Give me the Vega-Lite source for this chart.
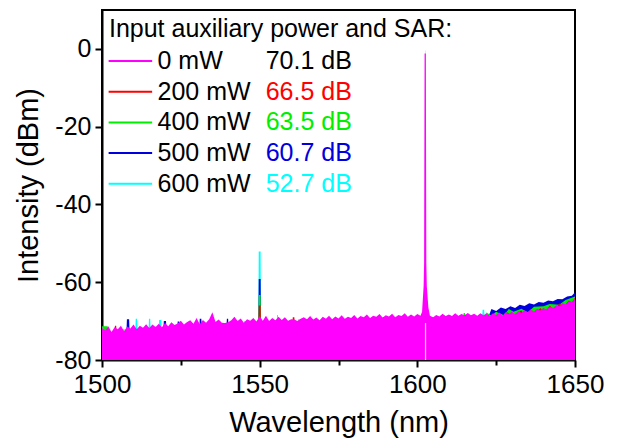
{
  "$schema": "https://vega.github.io/schema/vega-lite/v6.json",
  "width": 473,
  "height": 350,
  "autosize": "none",
  "padding": {"left": 102, "top": 10, "right": 45, "bottom": 79},
  "background": "white",
  "config": {
    "view": {"stroke": "black", "strokeWidth": 2},
    "font": "Liberation Sans",
    "axis": {
      "domainColor": "black", "domainWidth": 2, "tickColor": "black", "tickWidth": 2,
      "labelColor": "black", "titleColor": "black", "grid": false,
      "labelFont": "Liberation Sans", "titleFont": "Liberation Sans", "titleFontWeight": "normal"
    }
  },
  "datasets": {
    "m": [
      {"x":1500,"y":-71.8},{"x":1501,"y":-72.4},{"x":1502,"y":-71.3},{"x":1503,"y":-72.8},{"x":1504,"y":-71.6},{"x":1505,"y":-72.1},{"x":1506,"y":-71.2},{"x":1507,"y":-72.6},{"x":1508,"y":-71.4},{"x":1509,"y":-71.9},
      {"x":1510,"y":-70.9},{"x":1511,"y":-72.1},{"x":1512,"y":-71.2},{"x":1513,"y":-71.7},{"x":1514,"y":-70.8},{"x":1515,"y":-71.8},{"x":1516,"y":-70.9},{"x":1517,"y":-71.5},{"x":1518,"y":-70.7},{"x":1519,"y":-71.6},
      {"x":1520,"y":-70.5},{"x":1521,"y":-71.3},{"x":1522,"y":-70.3},{"x":1523,"y":-71.0},{"x":1524,"y":-70.6},{"x":1525,"y":-69.9},{"x":1526,"y":-70.9},{"x":1527,"y":-70.2},{"x":1528,"y":-69.8},{"x":1529,"y":-70.7},
      {"x":1530,"y":-69.2},{"x":1531,"y":-70.8},{"x":1532,"y":-69.7},{"x":1533,"y":-70.4},{"x":1534,"y":-69.5},{"x":1535,"y":-67.7},{"x":1536,"y":-70.2},{"x":1537,"y":-69.6},{"x":1538,"y":-70.4},{"x":1539,"y":-70.5},
      {"x":1540,"y":-70.3},{"x":1541,"y":-69.8},{"x":1542,"y":-68.9},{"x":1543,"y":-70.0},{"x":1544,"y":-69.3},{"x":1545,"y":-70.4},{"x":1546,"y":-69.5},{"x":1547,"y":-69.9},{"x":1548,"y":-69.2},{"x":1549,"y":-70.1},
      {"x":1550,"y":-68.7},{"x":1551,"y":-69.9},{"x":1552,"y":-68.6},{"x":1553,"y":-70.0},{"x":1554,"y":-69.2},{"x":1555,"y":-69.8},{"x":1556,"y":-68.9},{"x":1557,"y":-69.7},{"x":1558,"y":-69.0},{"x":1559,"y":-69.9},
      {"x":1560,"y":-69.5},{"x":1561,"y":-69.6},{"x":1562,"y":-70.0},{"x":1563,"y":-69.4},{"x":1564,"y":-69.0},{"x":1565,"y":-69.5},{"x":1566,"y":-68.7},{"x":1567,"y":-69.6},{"x":1568,"y":-69.1},{"x":1569,"y":-69.8},
      {"x":1570,"y":-68.9},{"x":1571,"y":-69.4},{"x":1572,"y":-68.6},{"x":1573,"y":-69.5},{"x":1574,"y":-68.8},{"x":1575,"y":-69.3},{"x":1576,"y":-68.5},{"x":1577,"y":-69.4},{"x":1578,"y":-68.9},{"x":1579,"y":-69.2},
      {"x":1580,"y":-68.4},{"x":1581,"y":-69.3},{"x":1582,"y":-68.7},{"x":1583,"y":-69.0},{"x":1584,"y":-68.3},{"x":1585,"y":-69.2},{"x":1586,"y":-68.6},{"x":1587,"y":-68.9},{"x":1588,"y":-68.2},{"x":1589,"y":-69.1},
      {"x":1590,"y":-68.5},{"x":1591,"y":-68.8},{"x":1592,"y":-68.1},{"x":1593,"y":-69.0},{"x":1594,"y":-68.4},{"x":1595,"y":-68.7},{"x":1596,"y":-68.0},{"x":1597,"y":-68.9},{"x":1598,"y":-68.3},{"x":1599,"y":-68.8},
      {"x":1600,"y":-68.2},{"x":1601,"y":-68.6},{"x":1601.5,"y":-67.6},{"x":1602,"y":-61},{"x":1602.15,"y":-55},{"x":1602.3,"y":-1.2},{"x":1602.7,"y":-1.2},{"x":1602.85,"y":-55},{"x":1603,"y":-61},{"x":1603.5,"y":-66.5},
      {"x":1604,"y":-68.6},{"x":1605,"y":-69.0},{"x":1606,"y":-68.4},{"x":1607,"y":-68.8},{"x":1608,"y":-68.1},{"x":1609,"y":-68.7},
      {"x":1610,"y":-68.3},{"x":1611,"y":-68.7},{"x":1612,"y":-68.0},{"x":1613,"y":-68.6},{"x":1614,"y":-68.2},{"x":1615,"y":-68.5},{"x":1616,"y":-67.9},{"x":1617,"y":-68.5},{"x":1618,"y":-68.1},{"x":1619,"y":-68.6},
      {"x":1620,"y":-68.0},{"x":1621,"y":-68.5},{"x":1622,"y":-68.1},{"x":1623,"y":-68.7},{"x":1624,"y":-68.0},{"x":1625,"y":-68.4},{"x":1626,"y":-67.8},{"x":1627,"y":-68.6},{"x":1628,"y":-67.7},{"x":1629,"y":-68.2},
      {"x":1630,"y":-67.5},{"x":1631,"y":-68.3},{"x":1632,"y":-67.4},{"x":1633,"y":-67.9},{"x":1634,"y":-67.2},{"x":1635,"y":-67.8},{"x":1636,"y":-67.0},{"x":1637,"y":-67.6},{"x":1638,"y":-66.8},{"x":1639,"y":-67.3},
      {"x":1640,"y":-66.6},{"x":1641,"y":-67.0},{"x":1642,"y":-66.2},{"x":1643,"y":-66.7},{"x":1644,"y":-65.9},{"x":1645,"y":-66.2},{"x":1646,"y":-65.4},{"x":1647,"y":-65.7},{"x":1648,"y":-64.9},{"x":1649,"y":-65.0},
      {"x":1650,"y":-64.2}
    ],
    "r": [
      {"x":1500,"y":-74},{"x":1503.9,"y":-74},{"x":1504.1,"y":-71.2},{"x":1504.5,"y":-71.2},{"x":1504.7,"y":-74},
      {"x":1549.6,"y":-72},{"x":1549.7,"y":-66.0},{"x":1550.3,"y":-66.0},{"x":1550.4,"y":-72},
      {"x":1560.3,"y":-72},{"x":1560.5,"y":-69.0},{"x":1561,"y":-69.0},{"x":1561.2,"y":-72},
      {"x":1625,"y":-70},{"x":1627,"y":-68.9},{"x":1628.5,"y":-67.7},{"x":1630,"y":-68.7},{"x":1633,"y":-67.3},{"x":1634,"y":-68.9},{"x":1636,"y":-67.0},{"x":1637.5,"y":-68.1},{"x":1639,"y":-66.6},{"x":1640.5,"y":-67.9},
      {"x":1642,"y":-66.0},{"x":1643.5,"y":-67.1},{"x":1645,"y":-65.5},{"x":1646.5,"y":-66.3},{"x":1648,"y":-64.7},{"x":1649,"y":-65.3},{"x":1650,"y":-63.9}
    ],
    "g": [
      {"x":1500,"y":-71.3},{"x":1501.8,"y":-71.3},{"x":1502,"y":-74},{"x":1506.6,"y":-74},{"x":1506.8,"y":-72.0},{"x":1507.1,"y":-72.0},{"x":1507.3,"y":-74},
      {"x":1549.6,"y":-72},{"x":1549.7,"y":-63.3},{"x":1550.3,"y":-63.3},{"x":1550.4,"y":-72},
      {"x":1562.1,"y":-72},{"x":1562.3,"y":-69.5},{"x":1562.6,"y":-69.5},{"x":1562.8,"y":-72},
      {"x":1614.5,"y":-70},{"x":1614.7,"y":-67.9},{"x":1615.1,"y":-67.9},{"x":1615.3,"y":-70},
      {"x":1620,"y":-69.5},{"x":1622,"y":-67.8},{"x":1623.5,"y":-68.6},{"x":1625,"y":-67.6},{"x":1627.5,"y":-68.5},{"x":1629,"y":-66.9},{"x":1630.5,"y":-67.6},{"x":1633,"y":-66.8},{"x":1635,"y":-67.7},{"x":1637,"y":-66.3},
      {"x":1640,"y":-66.2},{"x":1642,"y":-65.6},{"x":1645,"y":-65.8},{"x":1647,"y":-64.6},{"x":1650,"y":-63.7}
    ],
    "b": [
      {"x":1500,"y":-74},{"x":1507.7,"y":-74},{"x":1507.9,"y":-69.5},{"x":1508.6,"y":-69.5},{"x":1508.8,"y":-74},
      {"x":1519.4,"y":-73.5},{"x":1519.6,"y":-70},{"x":1520.3,"y":-70},{"x":1520.5,"y":-73.5},
      {"x":1523.8,"y":-73},{"x":1524,"y":-70.1},{"x":1524.5,"y":-70.1},{"x":1524.7,"y":-73},
      {"x":1530.8,"y":-73},{"x":1531,"y":-69.4},{"x":1531.5,"y":-69.4},{"x":1531.7,"y":-73},
      {"x":1539.4,"y":-72.5},{"x":1539.6,"y":-69.4},{"x":1540,"y":-69.4},{"x":1540.2,"y":-72.5},
      {"x":1549.6,"y":-72},{"x":1549.7,"y":-59.2},{"x":1550.3,"y":-59.2},{"x":1550.4,"y":-72},
      {"x":1622,"y":-70},{"x":1623.5,"y":-66.9},{"x":1625,"y":-67.4},{"x":1626.5,"y":-66.5},{"x":1628,"y":-66.9},{"x":1629.5,"y":-66.2},{"x":1631,"y":-66.6},{"x":1632.5,"y":-65.8},{"x":1634,"y":-66.1},{"x":1635.5,"y":-65.4},
      {"x":1637,"y":-65.7},{"x":1638.5,"y":-65.1},{"x":1640,"y":-65.3},{"x":1641.5,"y":-64.7},{"x":1643,"y":-64.9},{"x":1644.5,"y":-64.3},{"x":1646,"y":-64.4},{"x":1647.5,"y":-63.7},{"x":1649,"y":-63.5},{"x":1650,"y":-62.6}
    ],
    "c": [
      {"x":1500,"y":-74},{"x":1510.5,"y":-74},{"x":1510.7,"y":-69.4},{"x":1511.1,"y":-69.4},{"x":1511.3,"y":-74},
      {"x":1514.7,"y":-74},{"x":1514.9,"y":-69.4},{"x":1515.3,"y":-69.4},{"x":1515.5,"y":-74},
      {"x":1517.9,"y":-74},{"x":1518.1,"y":-69.7},{"x":1518.8,"y":-69.7},{"x":1519,"y":-74},
      {"x":1545,"y":-72.5},{"x":1545.1,"y":-70.0},{"x":1545.4,"y":-70.0},{"x":1545.5,"y":-72.5},
      {"x":1549.6,"y":-72},{"x":1549.7,"y":-52.1},{"x":1550.3,"y":-52.1},{"x":1550.4,"y":-72},
      {"x":1555.4,"y":-72},{"x":1555.5,"y":-68.4},{"x":1555.8,"y":-68.4},{"x":1555.9,"y":-72},
      {"x":1602.3,"y":-71},{"x":1602.4,"y":-55},{"x":1602.45,"y":-0.4},{"x":1602.55,"y":-0.4},{"x":1602.6,"y":-55},{"x":1602.7,"y":-71},
      {"x":1620.5,"y":-70},{"x":1620.7,"y":-67.1},{"x":1621.2,"y":-67.1},{"x":1621.4,"y":-70},{"x":1650,"y":-66}
    ],
    "gap": [
      {"x":1602.6,"y":-70.5}
    ],
    "leg": [
      {"s":"0 mW","sar":"70.1 dB","y":-3.1},
      {"s":"200 mW","sar":"66.5 dB","y":-11.0},
      {"s":"400 mW","sar":"63.5 dB","y":-18.9},
      {"s":"500 mW","sar":"60.7 dB","y":-26.8},
      {"s":"600 mW","sar":"52.7 dB","y":-34.7}
    ]
  },
  "layer": [
    {"data": {"name": "c"}, "mark": {"type": "area", "clip": true},
     "encoding": {
       "x": {
         "field": "x", "type": "quantitative",
         "scale": {"domain": [1500, 1650], "nice": false, "zero": false},
         "axis": {
           "title": "Wavelength (nm)",
           "values": [1500, 1525, 1550, 1575, 1600, 1625, 1650],
           "labelExpr": "datum.value % 50 === 0 ? '' + datum.value : ''",
           "tickSize": {"condition": {"test": "datum.value % 50 === 0", "value": 7}, "value": 5},
           "labelFontSize": 26, "labelPadding": 4, "titleFontSize": 29, "titlePadding": 11,
           "labelFlush": false, "labelOverlap": false
         }
       },
       "y": {
         "field": "y", "type": "quantitative",
         "scale": {"domain": [-80, 10], "nice": false, "zero": false},
         "axis": {
           "title": "Intensity (dBm)",
           "values": [-80, -70, -60, -50, -40, -30, -20, -10, 0, 10],
           "labelExpr": "datum.value % 20 === 0 ? '' + datum.value : ''",
           "tickSize": {"condition": {"test": "datum.value % 20 === 0", "value": 7}, "value": 5},
           "labelFontSize": 25, "labelPadding": 4, "titleFontSize": 29, "titlePadding": 11,
           "labelFlush": false, "labelOverlap": false
         }
       },
       "y2": {"datum": -80},
       "color": {"datum": "600 mW", "type": "nominal", "scale": {"domain": ["0 mW","200 mW","400 mW","500 mW","600 mW"], "range": ["#ff00ff","#ff0000","#00ee00","#0000dd","#00ffff"]}, "legend": null}}},
    {"data": {"name": "b"}, "mark": {"type": "area", "clip": true},
     "encoding": {"x": {"field": "x", "type": "quantitative"}, "y": {"field": "y", "type": "quantitative"}, "y2": {"datum": -80}, "color": {"datum": "500 mW", "type": "nominal"}}},
    {"data": {"name": "g"}, "mark": {"type": "area", "clip": true},
     "encoding": {"x": {"field": "x", "type": "quantitative"}, "y": {"field": "y", "type": "quantitative"}, "y2": {"datum": -80}, "color": {"datum": "400 mW", "type": "nominal"}}},
    {"data": {"name": "r"}, "mark": {"type": "area", "clip": true},
     "encoding": {"x": {"field": "x", "type": "quantitative"}, "y": {"field": "y", "type": "quantitative"}, "y2": {"datum": -80}, "color": {"datum": "200 mW", "type": "nominal"}}},
    {"data": {"name": "m"}, "mark": {"type": "area", "clip": true},
     "encoding": {"x": {"field": "x", "type": "quantitative"}, "y": {"field": "y", "type": "quantitative"}, "y2": {"datum": -80}, "color": {"datum": "0 mW", "type": "nominal"}}},
    {"data": {"name": "gap"}, "mark": {"type": "rule", "strokeWidth": 1.2, "color": "#ffd7b5"},
     "encoding": {"x": {"field": "x", "type": "quantitative"}, "y": {"field": "y", "type": "quantitative"}, "y2": {"datum": -80}}},
    {"data": {"name": "leg"}, "mark": {"type": "rule", "strokeWidth": 2},
     "encoding": {"x": {"datum": 1502.1, "type": "quantitative"}, "x2": {"datum": 1515.9}, "y": {"field": "y", "type": "quantitative"}, "color": {"field": "s", "type": "nominal"}}},
    {"data": {"name": "leg"}, "mark": {"type": "text", "align": "left", "baseline": "middle", "fontSize": 25, "color": "black"},
     "encoding": {"x": {"datum": 1517.6, "type": "quantitative"}, "y": {"field": "y", "type": "quantitative"}, "text": {"field": "s"}}},
    {"data": {"name": "leg"}, "mark": {"type": "text", "align": "left", "baseline": "middle", "fontSize": 25},
     "encoding": {"x": {"datum": 1551.9, "type": "quantitative"}, "y": {"field": "y", "type": "quantitative"}, "text": {"field": "sar"},
       "color": {"condition": {"test": "datum.s === '0 mW'", "value": "black"}, "field": "s", "type": "nominal"}}},
    {"data": {"values": [{}]}, "mark": {"type": "text", "align": "left", "baseline": "middle", "fontSize": 25, "color": "black"},
     "encoding": {"x": {"datum": 1502.2, "type": "quantitative"}, "y": {"datum": 5.2, "type": "quantitative"}, "text": {"value": "Input auxiliary power and SAR:"}}}
  ]
}
